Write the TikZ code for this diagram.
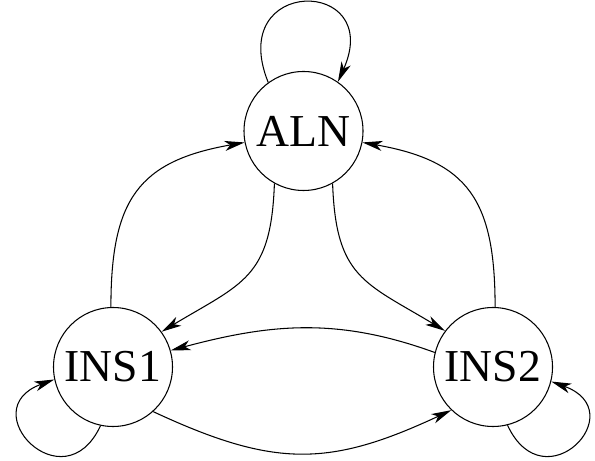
\documentclass[tikz,border=0pt]{standalone}
\usepackage{fontspec}
\setmainfont{Liberation Serif}
\usetikzlibrary{arrows.meta}

\begin{document}
\begin{tikzpicture}[line width=0.6pt,
  state/.style={draw,circle,minimum size=2.38cm,inner sep=0pt,font=\fontsize{26}{30}\selectfont},
  >={Stealth[length=4mm,width=2mm,inset=1.1mm]}]

  \useasboundingbox (0,0) rectangle (11.9,-9.22);

  \node[state] (aln) at (6.07,-2.62) {ALN};
  \node[state] (ins1) at (2.26,-7.34) {INS1};
  \node[state] (ins2) at (9.86,-7.34) {INS2};

  \draw[->] (aln.126) .. controls +(112:2.3) and +(66:2.3) .. (aln.55);
  \draw[->] (ins1.258) .. controls +(245:1.75) and +(200:1.75) .. (ins1.192);
  \draw[->] (ins2.284) .. controls +(295:1.75) and +(340:1.75) .. (ins2.346);

  \draw[->] (aln.241) to[out=268,in=31,looseness=1.3] (ins1.36);
  \draw[->] (ins1.92) to[out=90,in=190,looseness=1.3] (aln.191);
  \draw[->] (aln.299) to[out=272,in=149,looseness=1.3] (ins2.143);
  \draw[->] (ins2.88) to[out=90,in=350,looseness=1.3] (aln.349);

  \draw[->] (ins2.166) to[out=160,in=15] (ins1.16);
  \draw[->] (ins1.312) to[out=-25,in=205,looseness=1.15] (ins2.226);

\end{tikzpicture}
\end{document}
